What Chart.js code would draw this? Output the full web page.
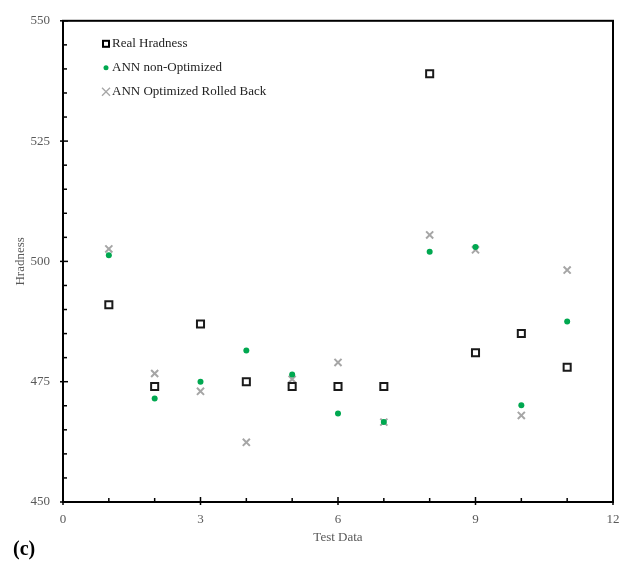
<!DOCTYPE html>
<html>
<head>
<meta charset="utf-8">
<script src="https://cdn.jsdelivr.net/npm/chart.js@4/dist/chart.umd.min.js"></script>
<style>
  html, body { margin: 0; padding: 0; background: #fff; }
  #wrap { width: 622px; height: 562px; }
</style>
</head>
<body>
<div id="wrap"><canvas id="scatterChart" width="622" height="562"></canvas></div>
<script>
// Dữ liệu
const testData = [1, 2, 3, 4, 5, 6, 7, 8, 9, 10, 11];
const realHardness = [491, 474, 487, 475, 474, 474, 474, 539, 481, 485, 478];
const annNonOptimized = [501.3, 471.5, 475, 481.5, 476.5, 468.4, 466.6, 502, 503, 470.1, 487.5];
const annOptimizedRolledBack = [502.6, 476.7, 473, 462.4, 475.5, 479, 466.6, 505.5, 502.4, 468, 498.2];
const xTicks = [0, 3, 6, 9, 12];
const yTicks = [450, 475, 500, 525, 550];

function toPoints(ys) {
  return testData.map((x, i) => ({ x: x, y: ys[i] }));
}

const serif = "'Liberation Serif', 'Times New Roman', serif";

// Khung, vạch chia phụ, chú thích và nhãn (c)
const framePlugin = {
  id: "frame",
  afterDraw(chart) {
    const { ctx, chartArea: a, scales } = chart;
    ctx.save();
    ctx.strokeStyle = "#000";
    ctx.lineWidth = 1.5;
    // vạch chia trục x
    for (let v = 0; v <= 12; v++) {
      const px = scales.x.getPixelForValue(v);
      const major = v % 3 === 0;
      ctx.beginPath();
      ctx.moveTo(px, a.bottom + (major ? 3 : 0));
      ctx.lineTo(px, a.bottom - (major ? 5 : 4));
      ctx.stroke();
    }
    // vạch chia trục y
    for (let v = 450; v <= 550; v += 5) {
      const py = scales.y.getPixelForValue(v);
      const major = v % 25 === 0;
      ctx.beginPath();
      ctx.moveTo(a.left - (major ? 3 : 0), py);
      ctx.lineTo(a.left + (major ? 5 : 4), py);
      ctx.stroke();
    }
    ctx.lineWidth = 2;
    ctx.strokeRect(a.left, a.top, a.right - a.left, a.bottom - a.top);

    // chú thích
    ctx.font = "13px " + serif;
    ctx.textBaseline = "middle";
    ctx.fillStyle = "#222";
    const lx = a.left + 43, rows = [a.top + 23, a.top + 47, a.top + 71];
    chart.data.datasets.forEach((ds, i) => {
      const y = rows[i];
      if (i === 0) {
        ctx.strokeStyle = "#000"; ctx.lineWidth = 2;
        ctx.strokeRect(lx - 3, y - 3, 6, 6);
      } else if (i === 1) {
        ctx.fillStyle = ds.backgroundColor;
        ctx.beginPath(); ctx.arc(lx, y, 2.5, 0, Math.PI * 2); ctx.fill();
      } else {
        ctx.strokeStyle = ds.borderColor; ctx.lineWidth = 1.3;
        ctx.beginPath();
        ctx.moveTo(lx - 4, y - 4); ctx.lineTo(lx + 4, y + 4);
        ctx.moveTo(lx + 4, y - 4); ctx.lineTo(lx - 4, y + 4);
        ctx.stroke();
      }
      ctx.fillStyle = "#222";
      ctx.textAlign = "left";
      ctx.fillText(ds.label, lx + 6, y);
    });

    ctx.font = "bold 20px " + serif;
    ctx.fillStyle = "#000";
    ctx.textBaseline = "alphabetic";
    ctx.fillText("(c)", 13, 555);
    ctx.restore();
  }
};

const ctx = document.getElementById("scatterChart").getContext("2d");
const scatterChart = new Chart(ctx, {
  type: "scatter",
  data: {
    datasets: [
      {
        label: "Real Hradness",
        data: toPoints(realHardness),
        pointStyle: "rect",
        pointRadius: 5,
        borderColor: "#1a1a1a",
        backgroundColor: "rgba(255,255,255,0)",
        borderWidth: 2,
      },
      {
        label: "ANN non-Optimized",
        data: toPoints(annNonOptimized),
        pointStyle: "circle",
        pointRadius: 3,
        borderWidth: 0,
        backgroundColor: "#00a850",
        borderColor: "#00a850",
      },
      {
        label: "ANN Optimized Rolled Back",
        data: toPoints(annOptimizedRolledBack),
        pointStyle: "crossRot",
        pointRadius: 5,
        borderWidth: 2,
        borderColor: "#a6a6a6",
        backgroundColor: "#a6a6a6",
      },
    ],
  },
  options: {
    responsive: false,
    animation: false,
    layout: { padding: { left: 0, right: 0, top: 19, bottom: 0 } },
    plugins: { legend: { display: false }, tooltip: { enabled: false } },
    scales: {
      x: {
        type: "linear",
        min: 0,
        max: 12,
        afterBuildTicks: (s) => { s.ticks = xTicks.map((v) => ({ value: v })); },
        afterFit: (s) => { s.height = 60; s.paddingRight = 9; },
        grid: { display: false, drawTicks: false },
        border: { display: false },
        ticks: { color: "#595959", padding: 10, font: { family: serif, size: 13 } },
        title: { display: true, text: "Test Data", color: "#595959", padding: { top: 0, bottom: 17 }, font: { family: serif, size: 13 } },
      },
      y: {
        type: "linear",
        min: 450,
        max: 550,
        afterBuildTicks: (s) => { s.ticks = yTicks.map((v) => ({ value: v })); },
        afterFit: (s) => { s.width = 63; },
        grid: { display: false, drawTicks: false },
        border: { display: false },
        ticks: { color: "#595959", padding: 13, font: { family: serif, size: 13 } },
        title: { display: true, text: "Hradness", color: "#595959", padding: { top: 13, bottom: 0 }, font: { family: serif, size: 13 } },
      },
    },
  },
  plugins: [framePlugin],
});
</script>
</body>
</html>
